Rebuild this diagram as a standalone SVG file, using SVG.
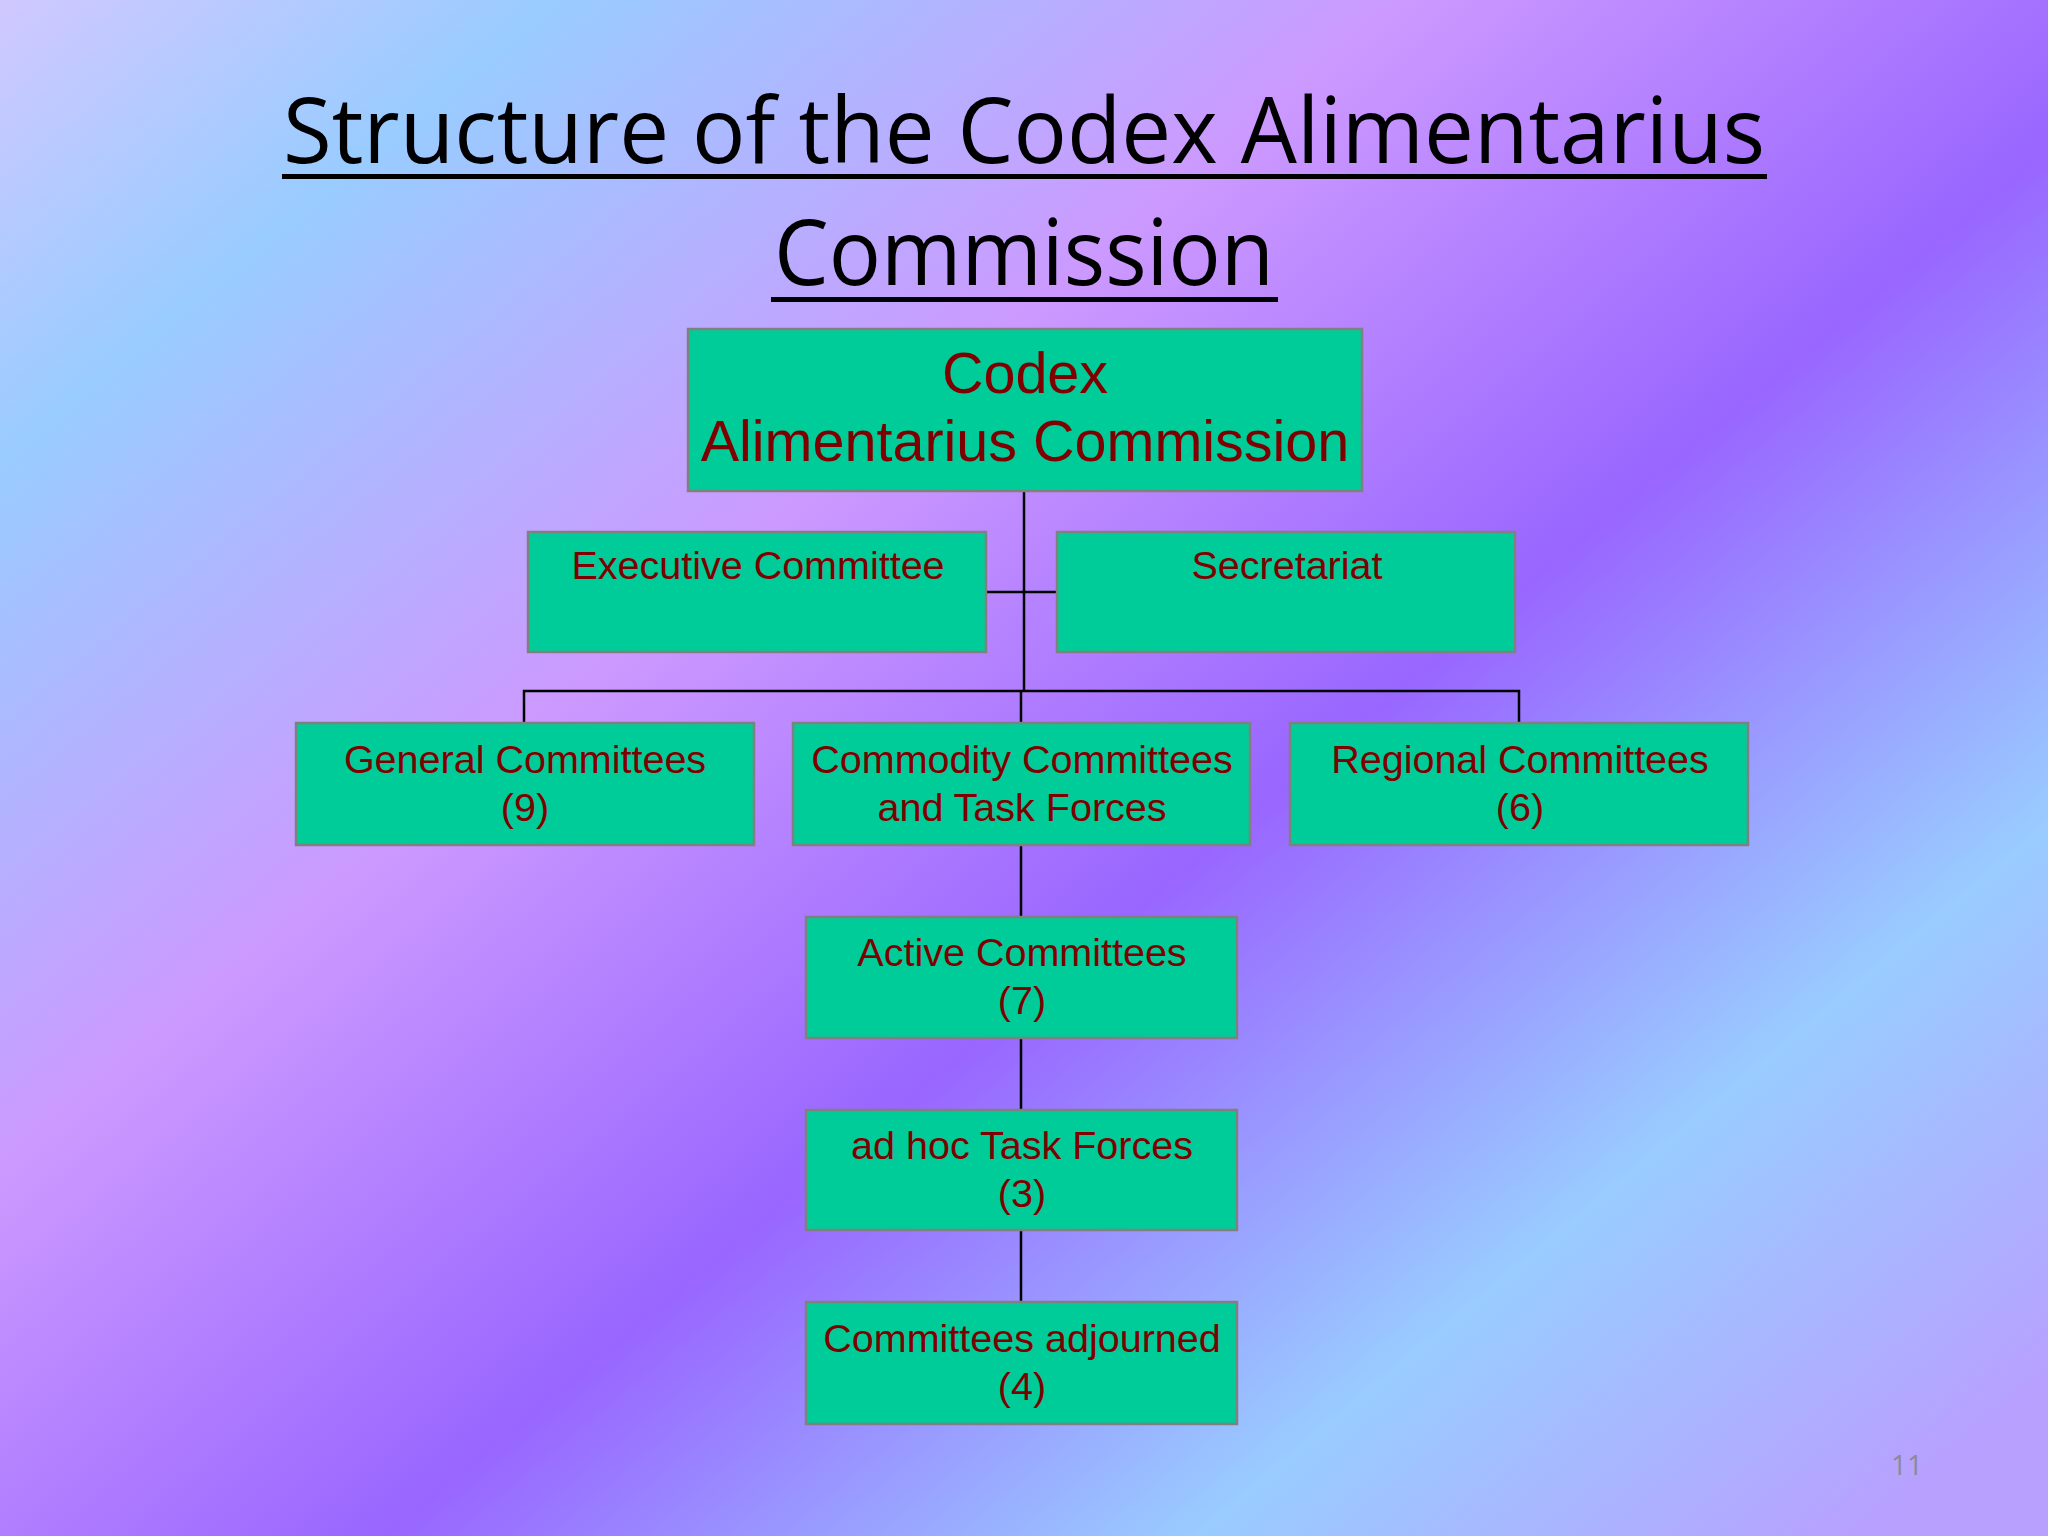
<svg xmlns="http://www.w3.org/2000/svg" width="2048" height="1536" viewBox="0 0 2048 1536">
<defs>
<linearGradient id="bg" x1="0" y1="0" x2="1" y2="0.9">
<stop offset="0" stop-color="#d0c8ff"/>
<stop offset="0.15" stop-color="#99ccff"/>
<stop offset="0.38" stop-color="#cc99ff"/>
<stop offset="0.6" stop-color="#9966ff"/>
<stop offset="0.82" stop-color="#99ccff"/>
<stop offset="1" stop-color="#b8a0ff"/>
</linearGradient>
<style>
.box{fill:#00cc99;stroke:#808080;stroke-width:2.5}
.t{font-family:"Liberation Sans",Arial,sans-serif;font-size:39.5px;fill:#7f0000;text-anchor:middle}
.big{font-size:57.5px}
.c{stroke:#000;stroke-width:2.5;fill:none}
.title{font-family:"Open Sans","Noto Sans",sans-serif;font-size:92px;fill:#000;text-anchor:middle}
</style>
</defs>
<rect width="2048" height="1536" fill="url(#bg)"/>
<g id="title">
<text class="title" x="1024" y="163" textLength="1482" lengthAdjust="spacingAndGlyphs">Structure of the Codex Alimentarius</text>
<rect x="282" y="174" width="1485" height="5" fill="#000"/>
<text class="title" x="1024" y="285" textLength="500" lengthAdjust="spacingAndGlyphs">Commission</text>
<rect x="771" y="297" width="507" height="5" fill="#000"/>
</g>
<g id="connectors">
<path class="c" d="M1024 491V691M986 592H1057M524 723V691H1519V723M1021 691V723M1021 845V917M1021 1038V1110M1021 1230V1302"/>
</g>
<g id="cac"><rect class="box" x="688" y="329" width="674" height="162"/><text class="t big" x="1025" y="393">Codex</text><text class="t big" x="1025" y="461">Alimentarius Commission</text></g>
<g id="exec"><rect class="box" x="528" y="532" width="458" height="120"/><text class="t" x="758" y="579">Executive Committee</text></g>
<g id="sec"><rect class="box" x="1057" y="532" width="458" height="120"/><text class="t" x="1287" y="579">Secretariat</text></g>
<g id="general"><rect class="box" x="296" y="723" width="458" height="122"/><text class="t" x="525" y="773">General Committees</text><text class="t" x="525" y="821">(9)</text></g>
<g id="commodity"><rect class="box" x="793" y="723" width="457" height="122"/><text class="t" x="1022" y="773">Commodity Committees</text><text class="t" x="1022" y="821">and Task Forces</text></g>
<g id="regional"><rect class="box" x="1290" y="723" width="458" height="122"/><text class="t" x="1520" y="773">Regional Committees</text><text class="t" x="1520" y="821">(6)</text></g>
<g id="active"><rect class="box" x="806" y="917" width="431" height="121"/><text class="t" x="1022" y="966">Active Committees</text><text class="t" x="1022" y="1014">(7)</text></g>
<g id="adhoc"><rect class="box" x="806" y="1110" width="431" height="120"/><text class="t" x="1022" y="1159">ad hoc Task Forces</text><text class="t" x="1022" y="1207">(3)</text></g>
<g id="adjourned"><rect class="box" x="806" y="1302" width="431" height="122"/><text class="t" x="1022" y="1352">Committees adjourned</text><text class="t" x="1022" y="1400">(4)</text></g>
<text x="1907" y="1475" font-family="'Open Sans',sans-serif" font-size="28" fill="#8a8a9a" text-anchor="middle">11</text>
</svg>
